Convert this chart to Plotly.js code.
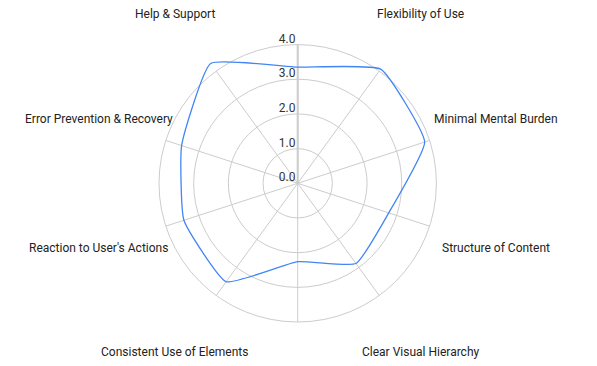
<!DOCTYPE html>
<html>
<head>
<meta charset="utf-8">
<script src="https://cdn.plot.ly/plotly-3.0.1.min.js"></script>
<style>
  html, body { margin: 0; padding: 0; background: #fff; }
  #chart { width: 597px; height: 366px; }
</style>
</head>
<body>
<div id="chart"></div>
<script>
// ---- data ----
var categories = [" ", "Flexibility of Use", "Minimal Mental Burden", "Structure of Content",
  "Clear Visual Hierarchy", "  ", "Consistent Use of Elements", "Reaction to User's Actions",
  "Error Prevention & Recovery", "Help & Support"];
var scores = [3.35, 4.07, 3.85, 2.76, 2.86, 2.26, 3.51, 3.45, 3.52, 4.27];
var radialTicks = [0, 1, 2, 3, 4];

// ---- layout geometry ----
var W = 597, H = 366;
var cx = 297.7, cy = 183.3, R = 138.7;   // centre and radius of the 0..4 grid (px)
var gridMax = 4, dataMax = 4.5;
var labelRadius = 209;
var tickLabelShiftY = -6;                 // radial tick labels sit a little above their rings

function domainFor(rad, dx, dy) {
  dx = dx || 0; dy = dy || 0;
  var x0 = cx + dx, y0 = cy + dy;
  return {
    x: [(x0 - rad) / W, (x0 + rad) / W],
    y: [(H - y0 - rad) / H, (H - y0 + rad) / H]
  };
}

var thetaClosed = categories.concat([categories[0]]);
var rClosed = scores.concat([scores[0]]);

function ghost(sub) {
  return {
    type: 'scatterpolar', subplot: sub, mode: 'lines',
    theta: thetaClosed, r: rClosed.map(function (v) { return Math.min(v, gridMax); }),
    line: { color: 'rgba(0,0,0,0)', width: 0 }, hoverinfo: 'skip', showlegend: false
  };
}
var dataTrace = {
  type: 'scatterpolar', subplot: 'polar2', mode: 'lines',
  theta: thetaClosed, r: rClosed,
  line: { color: '#4285f4', width: 1.3, shape: 'spline', smoothing: 0.4 }, showlegend: false
};

var angCommon = {
  type: 'category', categoryarray: categories, categoryorder: 'array',
  rotation: 90, direction: 'clockwise'
};
var tickFont = { family: 'Roboto, Arial, sans-serif', size: 12, color: '#333' };

var annotations = [];
categories.forEach(function (c, i) {
  if (!c.trim()) return;
  var a = i * 2 * Math.PI / categories.length;
  var px = cx + labelRadius * Math.sin(a);
  var py = cy - labelRadius * Math.cos(a);
  annotations.push({
    text: c, xref: 'paper', yref: 'paper', x: px / W, y: 1 - py / H,
    xanchor: 'center', yanchor: 'middle', showarrow: false,
    font: { family: 'Roboto, Arial, sans-serif', size: 12, color: '#222' }
  });
});

var layout = {
  width: W, height: H,
  margin: { l: 0, r: 0, t: 0, b: 0, pad: 0 },
  paper_bgcolor: '#fff',
  showlegend: false,
  font: { family: 'Roboto, Arial, sans-serif', size: 12, color: '#444' },
  // grid: rings, spokes and vertical axis line
  polar: {
    domain: domainFor(R),
    bgcolor: 'rgba(0,0,0,0)',
    radialaxis: {
      range: [0, gridMax], tickmode: 'array', tickvals: radialTicks,
      angle: 90, showticklabels: false, showline: true, linecolor: '#cccccc', linewidth: 2,
      gridcolor: '#cccccc', gridwidth: 1, ticks: ''
    },
    angularaxis: Object.assign({}, angCommon, {
      showticklabels: false, ticks: '', showline: true, linecolor: '#cccccc', linewidth: 1,
      gridcolor: '#cccccc', gridwidth: 1
    })
  },
  // data line (range extends past 4.0 so the outer values are not clipped)
  polar2: {
    domain: domainFor(R * dataMax / gridMax),
    bgcolor: 'rgba(0,0,0,0)',
    radialaxis: { range: [0, dataMax], visible: false },
    angularaxis: Object.assign({}, angCommon, {
      showticklabels: false, ticks: '', showline: false, showgrid: false
    })
  },
  // radial tick labels only
  polar3: {
    domain: domainFor(R, 0, tickLabelShiftY),
    bgcolor: 'rgba(0,0,0,0)',
    radialaxis: {
      range: [0, gridMax], tickmode: 'array', tickvals: radialTicks, tickformat: '.1f',
      angle: 90, tickangle: 90, side: 'counterclockwise',
      showline: false, showgrid: false, ticks: '', tickfont: tickFont
    },
    angularaxis: Object.assign({}, angCommon, {
      showticklabels: false, ticks: '', showline: false, showgrid: false
    })
  },
  annotations: annotations
};

Plotly.newPlot('chart', [ghost('polar'), ghost('polar3'), dataTrace], layout,
  { displayModeBar: false, staticPlot: true });
</script>
</body>
</html>
